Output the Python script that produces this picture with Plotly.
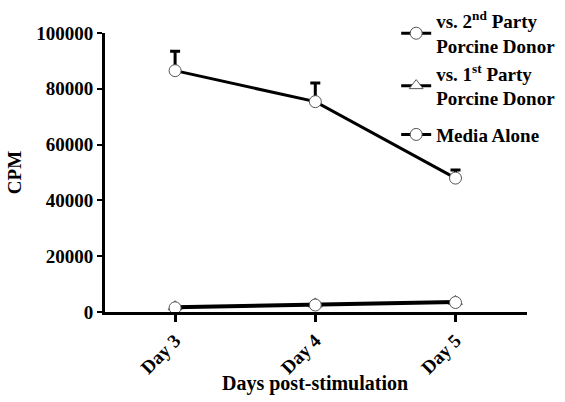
import plotly.graph_objects as go

days = ["Day 3", "Day 4", "Day 5"]
second_party = [86500, 75400, 48000]
second_party_err = [7000, 6700, 2900]
first_party = [1900, 2900, 3800]
media_alone = [1500, 2500, 3400]

y_ticks = [0, 20000, 40000, 60000, 80000, 100000]

FONT = "Liberation Serif"

fig = go.Figure()


def series(name, y, symbol, err=None, legend="legend"):
    kw = {}
    if err is not None:
        kw["error_y"] = dict(type="data", array=err, arrayminus=[0] * len(err),
                             symmetric=False, color="black", thickness=3, width=5)
    fig.add_trace(go.Scatter(
        x=days, y=y, name=name, mode="lines+markers", legend=legend,
        line=dict(color="black", width=3),
        marker=dict(symbol=symbol, size=12, color="white",
                    line=dict(color="#555555", width=1)),
        **kw,
    ))


series("vs. 2<sup>nd</sup> Party<br>Porcine Donor", second_party, "circle", second_party_err)
series("vs. 1<sup>st</sup> Party<br>Porcine Donor", first_party, "triangle-up")
series("Media Alone", media_alone, "circle", legend="legend2")

legend_style = dict(xanchor="left", yanchor="top",
                    font=dict(family=FONT, size=19, color="black", weight="bold"),
                    bgcolor="rgba(0,0,0,0)", itemwidth=30)

fig.update_layout(
    width=565, height=402,
    margin=dict(l=105, r=38, t=33, b=90, autoexpand=False),
    paper_bgcolor="white", plot_bgcolor="white",
    font=dict(family=FONT, size=19, color="black"),
    showlegend=True,
    legend=dict(x=0.69, y=1.111, tracegroupgap=8, **legend_style),
    legend2=dict(x=0.69, y=0.704, **legend_style),
    xaxis=dict(
        type="category", range=[-0.5, 2.51],
        showline=True, linecolor="black", linewidth=3,
        ticks="outside", ticklen=7, tickwidth=3, tickcolor="black",
        tickangle=-45, showgrid=False, zeroline=False,
        tickfont=dict(family=FONT, size=19, weight="bold"),
    ),
    yaxis=dict(
        range=[0, 100000], tickvals=y_ticks, ticktext=[str(v) for v in y_ticks],
        showline=True, linecolor="black", linewidth=3,
        ticks="outside", ticklen=5, tickwidth=2, tickcolor="black",
        showgrid=False, zeroline=False,
        tickfont=dict(family=FONT, size=19, weight="bold"),
        title=dict(text="<b>CPM</b>", font=dict(size=19), standoff=10),
    ),
    annotations=[dict(
        text="<b>Days post-stimulation</b>", xref="paper", yref="paper",
        x=0.498, y=-0.2545, xanchor="center", yanchor="middle",
        showarrow=False, font=dict(family=FONT, size=20, color="black"),
    )],
)

fig.write_html("out.html")
